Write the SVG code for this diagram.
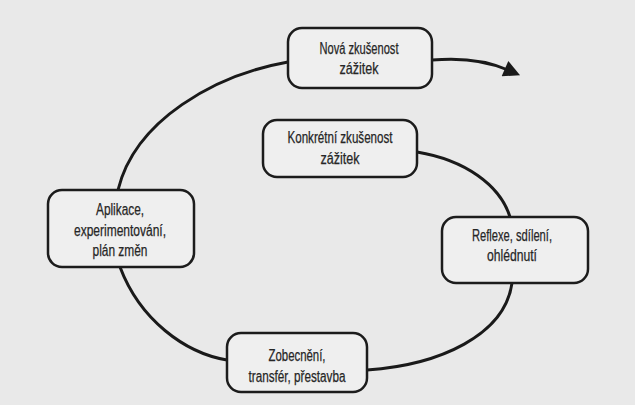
<svg xmlns="http://www.w3.org/2000/svg" width="635" height="405" viewBox="0 0 635 405">
<defs>
<style>
.box{fill:#efefef;stroke:#1c1c1c;stroke-width:2.5}
.lbl{font-family:"Liberation Sans",Arial,sans-serif;font-size:16px;fill:#262626;stroke:#262626;stroke-width:0.25;text-anchor:middle}
.con{fill:none;stroke:#1a1a1a;stroke-width:3;stroke-linecap:round}
</style>
<marker id="ah" viewBox="0 0 10 10" refX="2" refY="5" markerWidth="6.5" markerHeight="5.5" orient="auto" markerUnits="strokeWidth">
<path d="M0,0 L10,5 L0,10 Z" fill="#1a1a1a"/>
</marker>
</defs>
<rect width="635" height="405" fill="#e9e9e9"/>
<g id="connectors">
<path class="con" d="M432,60 C466,57 490,62 508,70" marker-end="url(#ah)"/>
<path class="con" d="M288,62 C215,75 135,120 118,190"/>
<path class="con" d="M417,152 C465,160 500,185 510,217"/>
<path class="con" d="M512,283 C505,335 440,365 367,370"/>
<path class="con" d="M120,267 C140,320 185,353 227,360"/>
</g>
<g id="nova">
<rect class="box" x="288" y="28" width="144" height="60" rx="14"/>
<text class="lbl" x="359" y="54" textLength="79" lengthAdjust="spacingAndGlyphs">Nová zkušenost</text>
<text class="lbl" x="359" y="74" textLength="39" lengthAdjust="spacingAndGlyphs">zážitek</text>
</g>
<g id="konkretni">
<rect class="box" x="263" y="120" width="154" height="57" rx="14"/>
<text class="lbl" x="340" y="143" textLength="105" lengthAdjust="spacingAndGlyphs">Konkrétní zkušenost</text>
<text class="lbl" x="340" y="164" textLength="39" lengthAdjust="spacingAndGlyphs">zážitek</text>
</g>
<g id="reflexe">
<rect class="box" x="442" y="217" width="146" height="66" rx="14"/>
<text class="lbl" x="512" y="241" textLength="80" lengthAdjust="spacingAndGlyphs">Reflexe, sdílení,</text>
<text class="lbl" x="512" y="261" textLength="50" lengthAdjust="spacingAndGlyphs">ohlédnutí</text>
</g>
<g id="aplikace">
<rect class="box" x="48" y="190" width="146" height="77" rx="14"/>
<text class="lbl" x="120" y="215" textLength="48" lengthAdjust="spacingAndGlyphs">Aplikace,</text>
<text class="lbl" x="120" y="236" textLength="92" lengthAdjust="spacingAndGlyphs">experimentování,</text>
<text class="lbl" x="120" y="256" textLength="55" lengthAdjust="spacingAndGlyphs">plán změn</text>
</g>
<g id="zobecneni">
<rect class="box" x="227" y="333" width="140" height="59" rx="14"/>
<text class="lbl" x="297" y="361" textLength="57" lengthAdjust="spacingAndGlyphs">Zobecnění,</text>
<text class="lbl" x="297" y="382" textLength="97" lengthAdjust="spacingAndGlyphs">transfér, přestavba</text>
</g>
</svg>
